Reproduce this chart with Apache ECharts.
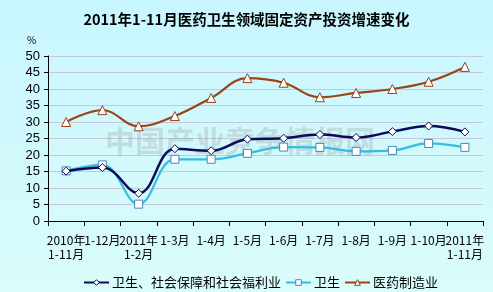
<!DOCTYPE html>
<html><head><meta charset="utf-8">
<script src="https://cdn.jsdelivr.net/npm/echarts@6/dist/echarts.min.js"></script>
<style>html,body{margin:0;padding:0;}#c{width:493px;height:292px;}</style>
</head><body><div id="c"></div>
<script>
const categories = ["2010年\n1-11月","1-12月","2011年\n1-2月","1-3月","1-4月","1-5月","1-6月","1-7月","1-8月","1-9月","1-10月","2011年\n1-11月"];
const welfare = [15.1, 16.2, 8.4, 21.9, 21.3, 24.8, 25.1, 26.2, 25.3, 27.1, 28.8, 27.0];
const health = [15.2, 17.0, 5.1, 18.7, 18.7, 20.5, 22.4, 22.3, 21.1, 21.4, 23.5, 22.3];
const pharma = [30.0, 33.6, 28.7, 31.8, 37.3, 43.3, 41.9, 37.5, 38.8, 40.0, 42.2, 46.7];
const yTicks = [0, 5, 10, 15, 20, 25, 30, 35, 40, 45, 50];
const seriesNames = ["卫生、社会保障和社会福利业", "卫生", "医药制造业"];

const colors = ['#0a0a5e', '#33bde0', '#9a4418'];
const borders = ['#0a0a5e', '#4a86b8', '#9a4418'];
const font = "'Noto Sans CJK SC', 'Liberation Sans', sans-serif";
const chart = echarts.init(document.getElementById('c'), null, {renderer: 'canvas'});
chart.setOption({
  backgroundColor: {type: 'linear', x: 0, y: 0, x2: 0, y2: 1,
    colorStops: [{offset: 0, color: '#c8f6ff'}, {offset: 1, color: '#dafcfa'}]},
  animation: false,
  title: {
    text: '2011年1-11月医药卫生领域固定资产投资增速变化',
    left: 'center', top: 7,
    textStyle: {fontFamily: font, fontSize: 14.5, fontWeight: 'bold', color: '#000'}
  },
  graphic: [
    {type: 'text', left: 27, top: 35, z: 5,
     style: {text: '%', font: '10px ' + font, fill: '#000'}},
    {type: 'text', left: 105, top: 126, z: 1, silent: true,
     style: {text: '中国产业竞争情报网', font: 'bold 30px ' + font,
             fill: 'rgba(150,150,150,0.28)', letterSpacing: 1}}
  ],
  legend: {
    left: 78, top: 271, itemWidth: 25, itemHeight: 7, itemGap: 4,
    textStyle: {fontFamily: font, fontSize: 13, color: '#000', padding: [0, 0, 0, -2]},
    data: seriesNames.map((n, i) => ({name: n,
      itemStyle: {color: '#ffffff', borderColor: borders[i], borderWidth: 1},
      lineStyle: {color: colors[i], width: 2}}))
  },
  grid: {left: 48, right: 10, top: 56, bottom: 71},
  xAxis: {
    type: 'category', data: categories, boundaryGap: true,
    axisLine: {lineStyle: {color: '#000', width: 1}},
    axisTick: {show: true, length: 5, lineStyle: {color: '#000'}},
    axisLabel: {interval: 0, hideOverlap: false, margin: 12, lineHeight: 14,
      fontFamily: font, fontSize: 12, color: '#000'}
  },
  yAxis: {
    type: 'value', min: yTicks[0], max: yTicks[yTicks.length - 1], interval: 5,
    axisLine: {show: true, lineStyle: {color: '#000', width: 1}},
    axisTick: {show: true, length: 4, lineStyle: {color: '#000'}},
    axisLabel: {margin: 8, fontFamily: "'Liberation Sans', Arial, sans-serif", fontSize: 13, color: '#000'},
    splitLine: {lineStyle: {color: '#c4c8d8', width: 1}}
  },
  series: [
    {name: seriesNames[0], type: 'line', data: welfare, smooth: 0.4, z: 4,
     symbol: 'diamond', symbolSize: 8,
     lineStyle: {color: colors[0], width: 2.5},
     itemStyle: {color: '#ffffff', borderColor: borders[0], borderWidth: 1},
     color: colors[0]},
    {name: seriesNames[1], type: 'line', data: health, smooth: 0.4, z: 3,
     symbol: 'rect', symbolSize: 8,
     lineStyle: {color: colors[1], width: 2.2},
     itemStyle: {color: '#ffffff', borderColor: borders[1], borderWidth: 1},
     color: colors[1]},
    {name: seriesNames[2], type: 'line', data: pharma, smooth: 0.4, z: 3,
     symbol: 'triangle', symbolSize: 9,
     lineStyle: {color: colors[2], width: 2.2},
     itemStyle: {color: '#ffffff', borderColor: borders[2], borderWidth: 1},
     color: colors[2]}
  ]
});
</script></body></html>
